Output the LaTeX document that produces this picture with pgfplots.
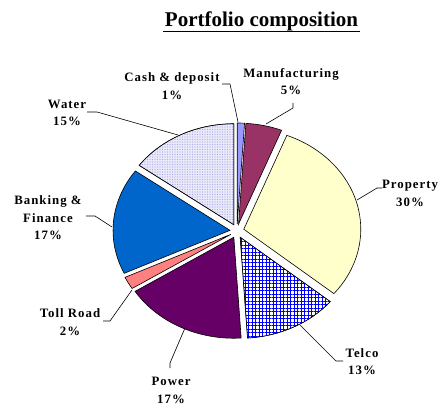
\documentclass[border=0pt]{standalone}
\usepackage{fontspec}
\setmainfont{Liberation Serif}
\newfontfamily\labfont[LetterSpace=8]{Liberation Serif}
\usepackage{pgfplots}
\pgfplotsset{compat=1.18}
\usetikzlibrary{patterns,patterns.meta}
\definecolor{cashc}{HTML}{9999FF}
\definecolor{manc}{HTML}{993366}
\definecolor{propc}{HTML}{FFFFCC}
\definecolor{powc}{HTML}{660066}
\definecolor{tollc}{HTML}{FF8080}
\definecolor{bankc}{HTML}{0066CC}
\definecolor{waterbg}{HTML}{EAEAFA}
\definecolor{waterdot}{HTML}{A8A8E4}
\tikzset{
  sl/.style={draw=black, line width=0.6pt},
  cashst/.style={sl, fill=cashc},
  manst/.style={sl, fill=manc},
  propst/.style={sl, fill=propc},
  powst/.style={sl, fill=powc},
  tollst/.style={sl, fill=tollc},
  bankst/.style={sl, fill=bankc},
  telcost/.style={fill=white,
    postaction={pattern={Lines[angle=0,distance=3.5pt,line width=1pt]}, pattern color=blue},
    postaction={pattern={Lines[angle=90,distance=3.5pt,line width=1pt]}, pattern color=blue},
    postaction={draw=black, line width=0.6pt}},
  waterst/.style={fill=waterbg,
    postaction={pattern={Dots[distance=2.5pt, radius=0.6pt]}, pattern color=waterdot},
    postaction={draw=black, line width=0.6pt}},
  lab/.style={font=\labfont\bfseries\fontsize{12.8}{17.5}\selectfont, align=center, anchor=center, inner sep=0pt}
}
% #1 cumulative start (%), #2 cumulative end (%), #3 style
\newcommand{\slice}[3]{%
  \pgfmathsetmacro\sa{90-3.6*#1}%
  \pgfmathsetmacro\sb{90-3.6*#2}%
  \pgfmathsetmacro\sm{(\sa+\sb)/2}%
  \pgfmathsetmacro\px{237+7*cos(\sm)}%
  \pgfmathsetmacro\py{186+7*sin(\sm)}%
  \edef\temp{\noexpand\draw[#3] (axis cs:\px,\py) -- ++(\sa:117pt and 101pt) arc[start angle=\sa, end angle=\sb, x radius=117pt, y radius=101pt] -- cycle;}%
  \temp}
\begin{document}
\begin{tikzpicture}
\begin{axis}[x=1pt, y=1pt, xmin=0, xmax=438, ymin=0, ymax=417, hide axis, clip=false]
\path (axis cs:0,0) coordinate (bl) (axis cs:438,417) coordinate (tr);
% values: Cash 1, Manufacturing 5, Property 30, Telco 13, Power 17, Toll Road 2, Banking 17, Water 15
\slice{0}{1}{cashst}
\slice{1}{6}{manst}
\slice{6}{36}{propst}
\slice{36}{49}{telcost}
\slice{49}{66}{powst}
\slice{66}{68}{tollst}
\slice{68}{85}{bankst}
\slice{85}{100}{waterst}
% leader lines
\addplot[black, line width=0.6pt] coordinates {(222,333) (230,333) (238,295)};
\addplot[black, line width=0.6pt] coordinates {(293,314) (293,309) (266,293)};
\addplot[black, line width=0.6pt] coordinates {(357,217) (377,229) (382,229)};
\addplot[black, line width=0.6pt] coordinates {(300,92) (336,56) (343,56)};
\addplot[black, line width=0.6pt] coordinates {(185,89) (170,54) (170,49)};
\addplot[black, line width=0.6pt] coordinates {(132,127) (110,96) (103,96)};
\addplot[black, line width=0.6pt] coordinates {(86,201) (95,201) (112,190)};
\addplot[black, line width=0.6pt] coordinates {(87,305) (97,305) (178,282)};
% labels
\node[lab] at (axis cs:172,331) {Cash \& deposit\\1\%};
\node[lab] at (axis cs:291,335.5) {Manufacturing\\5\%};
\node[lab] at (axis cs:410,223.5) {Property\\30\%};
\node[lab] at (axis cs:362,55.5) {Telco\\13\%};
\node[lab] at (axis cs:171,26.5) {Power\\17\%};
\node[lab] at (axis cs:70,95) {Toll Road\\2\%};
\node[lab] at (axis cs:48,199) {Banking \&\\Finance\\17\%};
\node[lab] at (axis cs:67,304) {Water\\15\%};
% title
\node[anchor=base, inner sep=0pt, font=\bfseries\fontsize{21}{24}\selectfont] at (axis cs:261.5,390) {Portfolio composition};
\draw[line width=1.8pt] (axis cs:163,385.5) -- (axis cs:360,385.5);
\end{axis}
\pgfresetboundingbox
\path[use as bounding box] (bl) rectangle (tr);
\end{tikzpicture}
\end{document}
